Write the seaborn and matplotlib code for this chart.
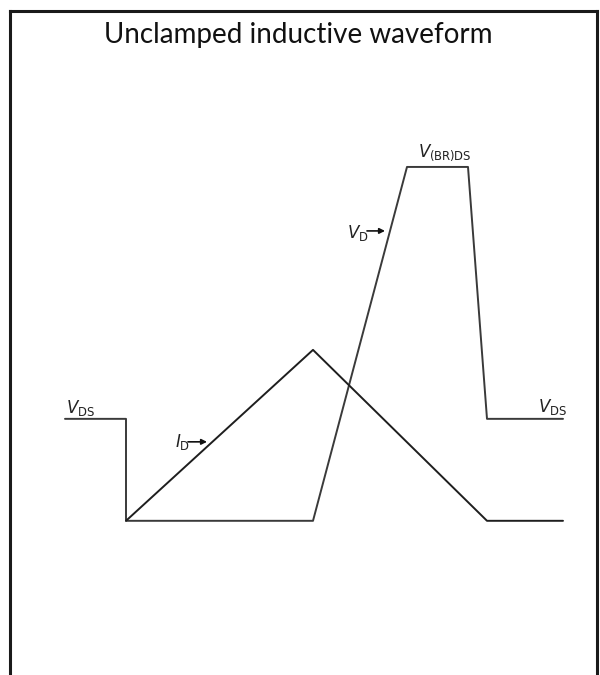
import matplotlib
matplotlib.use("Agg")
import matplotlib.pyplot as plt
import seaborn as sns
import pandas as pd

# Drain voltage trace (time, volts in arbitrary units)
vd_time = [55, 116, 116, 303, 397, 458, 477, 553]
vd_value = [102, 102, 0, 0, 354, 354, 102, 102]

# Drain current trace
id_time = [116, 303, 477, 553]
id_value = [0, 171, 0, 0]

# Reference levels used by the labels
v_ds_level = 102
v_br_level = 354

title_text = "Unclamped inductive waveform"

sns.set_theme(style="white")
plt.rcParams["mathtext.fontset"] = "custom"
plt.rcParams["mathtext.rm"] = "Liberation Sans Narrow"
plt.rcParams["mathtext.it"] = "Liberation Sans Narrow:italic"

fig = plt.figure(figsize=(6, 6.75), dpi=100)
ax = fig.add_axes([10 / 600, -0.01, 587 / 600, 1 - 11 / 675 + 0.01])

vd = pd.DataFrame({"t": vd_time, "v": vd_value})
idf = pd.DataFrame({"t": id_time, "v": id_value})

sns.lineplot(data=vd, x="t", y="v", sort=False, estimator=None,
             color="#3a3a3a", linewidth=1.4, ax=ax)
sns.lineplot(data=idf, x="t", y="v", sort=False, estimator=None,
             color="#1e1e1e", linewidth=1.4, ax=ax)

ax.set_xlim(0, 587)
ax.set_ylim(-154 - 7, 510)
ax.set_xticks([])
ax.set_yticks([])
ax.set_xlabel("")
ax.set_ylabel("")
for side in ("top", "left", "right"):
    ax.spines[side].set_visible(True)
    ax.spines[side].set_color("#1a1a1a")
    ax.spines[side].set_linewidth(2.2)
ax.spines["bottom"].set_visible(False)

ax.text(288, 478, title_text, ha="center", va="baseline",
        fontsize=20, family="Lato", color="#111111")

lab = dict(fontsize=12, color="#222222", va="baseline")
ax.text(56, v_ds_level + 6, r"$V_{\mathrm{DS}}$", ha="left", **lab)
ax.text(528, v_ds_level + 7, r"$V_{\mathrm{DS}}$", ha="left", **lab)
ax.text(408, v_br_level + 10, r"$V_{\mathrm{(BR)DS}}$", ha="left", **lab)
ax.text(337, 283, r"$V_{\mathrm{D}}$", ha="left", **lab)
ax.text(165, 74, r"$I_{\mathrm{D}}$", ha="left", **lab)

arrow = dict(arrowstyle="-|>", color="#111111", lw=1.2, mutation_scale=8,
             shrinkA=0, shrinkB=0)
ax.annotate("", xy=(375, 290), xytext=(357, 290), arrowprops=arrow)
ax.annotate("", xy=(197, 79), xytext=(178, 79), arrowprops=arrow)

fig.savefig("out.png", dpi=100, facecolor="white")
